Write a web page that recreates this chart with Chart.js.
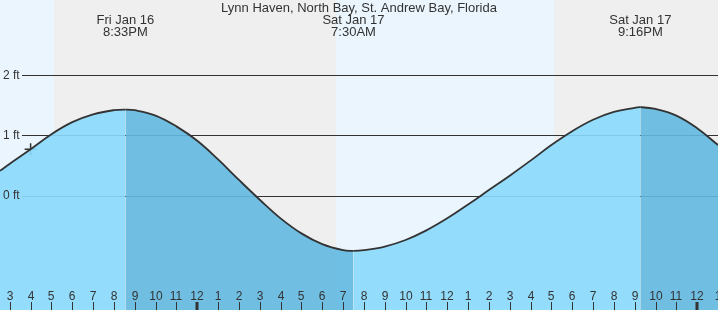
<!DOCTYPE html>
<html lang="en">
<head>
    <meta charset="UTF-8">
    <script src="https://cdn.jsdelivr.net/npm/chart.js@4"></script>
    <title>Tide chart</title>
    <style>
        html, body { margin: 0; padding: 0; background: #fff; }
        canvas { display: block; }
    </style>
</head>
<body>
    <canvas id="tide" width="718" height="310"></canvas>

    <script>
        // hours counted from Fri Jan 16 00:00
        const hours = [14.53, 15, 16, 17, 18, 19, 20, 20.55, 21, 22, 23, 24, 25, 26, 27, 28, 29, 30, 31, 31.5,
                       32, 33, 34, 35, 36, 37, 38, 39, 40, 41, 42, 43, 44, 45, 45.27, 46, 47, 48, 49];
        const heights = [0.41, 0.53, 0.77, 1.02, 1.22, 1.35, 1.42, 1.43, 1.42, 1.33, 1.15, 0.91, 0.60, 0.26, -0.07, -0.38, -0.63, -0.81, -0.91, -0.92,
                         -0.91, -0.85, -0.74, -0.58, -0.38, -0.15, 0.09, 0.33, 0.58, 0.84, 1.07, 1.26, 1.39, 1.46, 1.47, 1.44, 1.33, 1.12, 0.84];

        const nowHour = 16;
        const nowHeight = 0.77;

        const extremeHours = [20.55, 31.5, 45.27];
        const extremeDays = ['Fri Jan 16', 'Sat Jan 17', 'Sat Jan 17'];
        const extremeTimes = ['8:33PM', '7:30AM', '9:16PM'];

        const nights = [[17.12, 30.66], [41.12, 49]];

        const gridFeet = [0, 1, 2];
        const gridLabels = ['0 ft', '1 ft', '2 ft'];

        const tickHours = [15, 16, 17, 18, 19, 20, 21, 22, 23, 24, 25, 26, 27, 28, 29, 30, 31, 32, 33, 34, 35, 36,
                           37, 38, 39, 40, 41, 42, 43, 44, 45, 46, 47, 48, 49];
        const tickLabels = ['3', '4', '5', '6', '7', '8', '9', '10', '11', '12', '1', '2', '3', '4', '5', '6', '7', '8', '9', '10', '11', '12',
                            '1', '2', '3', '4', '5', '6', '7', '8', '9', '10', '11', '12', '1'];

        const title = 'Lynn Haven, North Bay, St. Andrew Bay, Florida';

        const lightFill = 'rgba(138,217,252,0.9)';
        const darkFill = 'rgba(98,185,225,0.9)';
        const FONT = 'Liberation Sans, Arial, sans-serif';

        const tideDecor = {
            id: 'tideDecor',
            beforeDraw(chart) {
                const ctx = chart.ctx, xs = chart.scales.x;
                ctx.save();
                ctx.fillStyle = '#ebf5fd';
                ctx.fillRect(0, 0, chart.width, chart.height);
                ctx.fillStyle = '#efefef';
                nights.forEach(n => {
                    const a = Math.round(xs.getPixelForValue(n[0]));
                    const b = Math.round(xs.getPixelForValue(n[1]));
                    ctx.fillRect(a, 0, b - a, chart.height);
                });
                ctx.restore();
            },
            beforeDatasetsDraw(chart) {
                const ctx = chart.ctx, ys = chart.scales.y;
                ctx.save();
                ctx.strokeStyle = '#333';
                ctx.lineWidth = 1;
                gridFeet.forEach(f => {
                    const y = Math.round(ys.getPixelForValue(f)) + 0.5;
                    ctx.beginPath();
                    ctx.moveTo(22, y);
                    ctx.lineTo(chart.width, y);
                    ctx.stroke();
                });
                ctx.restore();
            },
            afterDatasetsDraw(chart) {
                const ctx = chart.ctx, xs = chart.scales.x, ys = chart.scales.y;
                ctx.save();
                ctx.fillStyle = '#333';
                ctx.font = '12px ' + FONT;
                ctx.textBaseline = 'middle';
                ctx.textAlign = 'left';
                gridFeet.forEach((f, i) => {
                    ctx.fillText(gridLabels[i], 3, ys.getPixelForValue(f));
                });

                ctx.textAlign = 'center';
                ctx.textBaseline = 'alphabetic';
                ctx.strokeStyle = '#333';
                tickHours.forEach((h, i) => {
                    const x = Math.round(xs.getPixelForValue(h));
                    ctx.fillText(tickLabels[i], x, 300);
                    const midnight = h % 24 === 0;
                    ctx.lineWidth = midnight ? 3 : 1;
                    ctx.beginPath();
                    ctx.moveTo(midnight ? x : x + 0.5, 302);
                    ctx.lineTo(midnight ? x : x + 0.5, 310);
                    ctx.stroke();
                });
                ctx.restore();
            },
            afterDraw(chart) {
                const ctx = chart.ctx, xs = chart.scales.x;
                ctx.save();
                ctx.fillStyle = '#333';
                ctx.font = '13px ' + FONT;
                ctx.textAlign = 'center';
                ctx.fillText(title, chart.width / 2, 12);
                extremeHours.forEach((h, i) => {
                    const x = xs.getPixelForValue(h);
                    ctx.fillText(extremeDays[i], x, 24);
                    ctx.fillText(extremeTimes[i], x, 36);
                });
                ctx.restore();
            }
        };

        new Chart(document.getElementById('tide').getContext('2d'), {
            type: 'line',
            data: {
                datasets: [{
                    data: hours.map((h, i) => ({ x: h, y: heights[i] })),
                    borderColor: '#333',
                    borderWidth: 1.8,
                    pointRadius: 0,
                    tension: 0.4,
                    fill: 'start',
                    backgroundColor: lightFill,
                    segment: {
                        backgroundColor: c => c.p1.parsed.y < c.p0.parsed.y ? darkFill : lightFill
                    }
                }, {
                    data: [{ x: nowHour, y: nowHeight }],
                    showLine: false,
                    fill: false,
                    pointStyle: 'cross',
                    pointRadius: 6,
                    borderColor: '#333',
                    borderWidth: 1.5
                }]
            },
            options: {
                responsive: false,
                animation: false,
                layout: { padding: 0, autoPadding: false },
                plugins: { legend: { display: false }, tooltip: { enabled: false } },
                scales: {
                    x: { type: 'linear', min: 14.53, max: 49, display: false },
                    y: { min: -1.905, max: 3.253, display: false }
                }
            },
            plugins: [tideDecor]
        });
    </script>
</body>
</html>
